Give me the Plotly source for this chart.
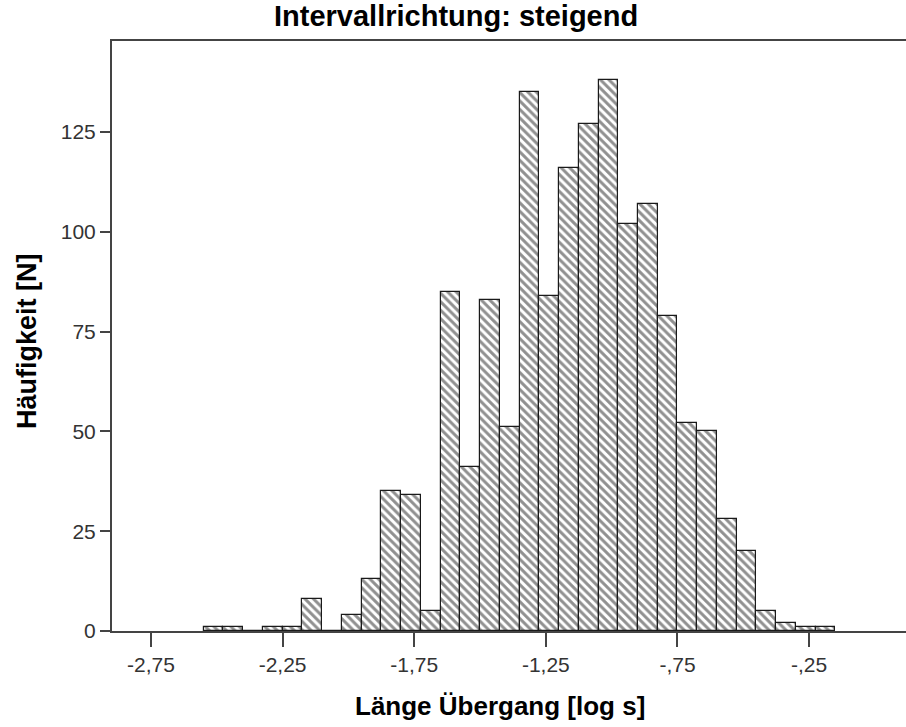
import plotly.graph_objects as go

# Histogram bins (log10 of transition length in seconds)
bin_start = -2.55
bin_width = 0.075
counts = [1, 1, 0, 1, 1, 8, 0, 4, 13, 35,
          34, 5, 85, 41, 83, 51, 135, 84, 116, 127,
          138, 102, 107, 79, 52, 50, 28, 20, 5, 2,
          1, 1]

x_tick_values = [-2.75, -2.25, -1.75, -1.25, -0.75, -0.25]
x_tick_labels = ["-2,75", "-2,25", "-1,75", "-1,25", "-,75", "-,25"]
y_tick_values = [0, 25, 50, 75, 100, 125]

title_text = "Intervallrichtung: steigend"
x_title = "Länge Übergang [log s]"
y_title = "Häufigkeit [N]"

centers = [bin_start + bin_width * (i + 0.5) for i in range(len(counts))]

FONT = "Liberation Sans, Arial, sans-serif"
AXIS = "#444444"

fig = go.Figure(
    go.Bar(
        x=centers,
        y=counts,
        width=bin_width,
        marker=dict(
            color="white",
            line=dict(color="#1a1a1a", width=1.2),
            pattern=dict(shape="\\", fgcolor="#222222", bgcolor="white",
                         size=6, solidity=0.5),
        ),
        hoverinfo="x+y",
    )
)

W, H = 906, 727
ml, mr, mt, mb = 112, 0, 41, 96

fig.update_layout(
    width=W, height=H,
    margin=dict(l=ml, r=mr, t=mt, b=mb),
    paper_bgcolor="white",
    plot_bgcolor="white",
    showlegend=False,
    bargap=0,
    font=dict(family=FONT, color="#333333"),
)

fig.update_xaxes(
    range=[-2.898, 0.118],
    tickmode="array", tickvals=x_tick_values, ticktext=x_tick_labels,
    ticks="outside", ticklen=14, tickwidth=2, tickcolor=AXIS,
    tickfont=dict(size=21, color="#333333"),
    showline=True, linecolor=AXIS, linewidth=2, mirror=True,
    showgrid=False, zeroline=False,
)
fig.update_yaxes(
    range=[0, 147.8],
    tickmode="array", tickvals=y_tick_values,
    ticks="outside", ticklen=10, tickwidth=2, tickcolor=AXIS,
    tickfont=dict(size=21, color="#333333"),
    showline=True, linecolor=AXIS, linewidth=2,
    showgrid=False, zeroline=False,
)

pw = W - ml - mr
ph = H - mt - mb

def px_x(px):
    return (px - ml) / pw

def px_y(py):
    return 1 - (py - mt) / ph

fig.add_annotation(
    text=f"<b>{title_text}</b>", x=px_x(456), y=px_y(16),
    xref="paper", yref="paper", showarrow=False,
    xanchor="center", yanchor="middle",
    font=dict(size=29, family=FONT, color="black"),
)
fig.add_annotation(
    text=f"<b>{x_title}</b>", x=px_x(500), y=px_y(706),
    xref="paper", yref="paper", showarrow=False,
    xanchor="center", yanchor="middle",
    font=dict(size=26, family=FONT, color="black"),
)
fig.add_annotation(
    text=f"<b>{y_title}</b>", x=px_x(27), y=px_y(341),
    xref="paper", yref="paper", showarrow=False, textangle=-90,
    xanchor="center", yanchor="middle",
    font=dict(size=27, family=FONT, color="black"),
)

fig.write_html("out.html")
